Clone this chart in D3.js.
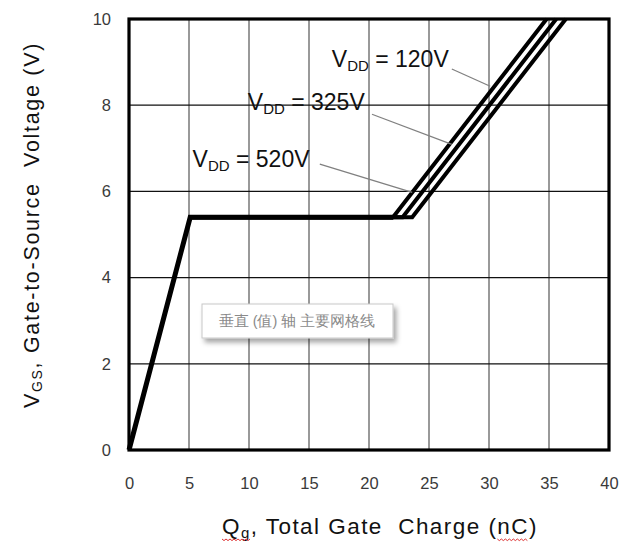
<!DOCTYPE html>
<html>
<head>
<meta charset="utf-8">
<script src="https://cdn.jsdelivr.net/npm/d3@7"></script>
<style>
  html, body { margin: 0; padding: 0; background: #fff; }
  svg { display: block; }
  text { font-family: "Liberation Sans", Arial, sans-serif; }
</style>
</head>
<body>
<svg id="chart" width="637" height="548"></svg>
<script>
// Gate charge curves: V_GS vs Q_g for three drain voltages
const xTicks = [0, 5, 10, 15, 20, 25, 30, 35, 40];
const yTicks = [0, 2, 4, 6, 8, 10];

const vddNames = ["120V", "325V", "520V"];
// shared turn-on ramp up to the Miller plateau
const rampCharge = [0, 5.1];
const rampVoltage = [0, 5.4];
const plateauVoltage = 5.4;
// end of the plateau and charge at V_GS = 10 V for each V_DD
const plateauEnd = [22.0, 22.8, 23.6];
const topCharge = [34.8, 35.6, 36.4];
const topVoltage = 10;

// label anchors (charge, voltage) and leader lines
const labelAt = [[16.9, 8.88], [9.9, 7.9], [5.3, 6.56]];
const leaderFrom = [[26.9, 8.84], [20.25, 7.79], [15.9, 6.63]];
const leaderTo = [[30.1, 8.44], [26.9, 7.09], [23.6, 5.98]];

const svg = d3.select("#chart");
const x = d3.scaleLinear().domain([0, 40]).range([129, 609]);
const y = d3.scaleLinear().domain([0, 10]).range([450, 19]);

// grid
svg.append("g").selectAll("line").data(xTicks.slice(1, -1)).join("line")
  .attr("x1", d => x(d)).attr("x2", d => x(d))
  .attr("y1", y(10)).attr("y2", y(0))
  .attr("stroke", "#555").attr("stroke-width", 1.2);
svg.append("g").selectAll("line").data(yTicks.slice(1, -1)).join("line")
  .attr("x1", x(0)).attr("x2", x(40))
  .attr("y1", d => y(d)).attr("y2", d => y(d))
  .attr("stroke", "#111").attr("stroke-width", 1.2);

// floating gridline tooltip box
const defs = svg.append("defs");
const f = defs.append("filter").attr("id", "shadow").attr("x", "-10%").attr("y", "-30%").attr("width", "130%").attr("height", "180%");
f.append("feDropShadow").attr("dx", 3).attr("dy", 4).attr("stdDeviation", 2.5).attr("flood-color", "#000").attr("flood-opacity", 0.35);
svg.append("rect")
  .attr("x", 202).attr("y", 304).attr("width", 191).attr("height", 34)
  .attr("fill", "#fff").attr("stroke", "#c8c8c8").attr("stroke-width", 1)
  .attr("filter", "url(#shadow)");
svg.append("text")
  .attr("x", 297).attr("y", 326).attr("text-anchor", "middle")
  .attr("font-family", "'Noto Sans CJK SC', sans-serif").attr("font-size", 14.5)
  .attr("fill", "#8a8a8a")
  .text("垂直 (值) 轴 主要网格线");

// frame
svg.append("rect")
  .attr("x", x(0)).attr("y", y(10))
  .attr("width", x(40) - x(0)).attr("height", y(0) - y(10))
  .attr("fill", "none").attr("stroke", "#000").attr("stroke-width", 3.2);

// tick labels via axes
const xAxis = svg.append("g").attr("transform", `translate(0,${y(0)})`)
  .call(d3.axisBottom(x).tickValues(xTicks).tickSize(0).tickPadding(27));
const yAxis = svg.append("g").attr("transform", `translate(${x(0)},0)`)
  .call(d3.axisLeft(y).tickValues(yTicks).tickSize(0).tickPadding(18));
[xAxis, yAxis].forEach(g => {
  g.select(".domain").remove();
  g.selectAll("text").attr("font-family", "'Liberation Sans', Arial, sans-serif")
    .attr("font-size", 16.5).attr("fill", "#3a3a3a");
});

// curves: shared ramp and plateau, then one rising branch per V_DD
const line = d3.line().x(d => x(d[0])).y(d => y(d[1]));
const curves = vddNames.map((n, i) => [
  [rampCharge[0], rampVoltage[0]],
  [rampCharge[1], rampVoltage[1]],
  [plateauEnd[i], plateauVoltage],
  [topCharge[i], topVoltage]
]);
const curveG = svg.append("g");
curveG.append("path").datum(curves[0].slice(0, 3)).attr("d", line)
  .attr("fill", "none").attr("stroke", "#000").attr("stroke-width", 5);
curveG.selectAll("path.branch").data(curves).join("path").attr("class", "branch")
  .attr("d", d => line(d.slice(1)))
  .attr("fill", "none").attr("stroke", "#000").attr("stroke-width", 4)
  .attr("stroke-linejoin", "miter");

// leaders
svg.append("g").selectAll("line").data(vddNames).join("line")
  .attr("x1", (d, i) => x(leaderFrom[i][0])).attr("y1", (d, i) => y(leaderFrom[i][1]))
  .attr("x2", (d, i) => x(leaderTo[i][0])).attr("y2", (d, i) => y(leaderTo[i][1]))
  .attr("stroke", "#808080").attr("stroke-width", 1.3);

// V_DD labels
const lab = svg.append("g").selectAll("text").data(vddNames).join("text")
  .attr("x", (d, i) => x(labelAt[i][0])).attr("y", (d, i) => y(labelAt[i][1]))
  .attr("font-size", 23).attr("fill", "#111");
lab.append("tspan").text("V");
lab.append("tspan").attr("font-size", 15).attr("dy", 4).text("DD");
lab.append("tspan").attr("dy", -4).text(d => " = " + d);

// x title
const xt = svg.append("text").attr("x", 222).attr("y", 534)
  .attr("font-size", 22.5).attr("fill", "#111").attr("letter-spacing", 1.45);
xt.append("tspan").text("Q");
xt.append("tspan").attr("font-size", 15).attr("dy", 4).text("g");
xt.append("tspan").attr("dy", -4).attr("xml:space", "preserve").text(", Total Gate  Charge (nC)");

// spell-check squiggles under "Qg" and "nC"
const squiggle = (x0, x1, yy) => {
  let d = `M${x0},${yy}`;
  for (let xx = x0 + 2, k = 0; xx <= x1; xx += 2, k++) d += `L${xx},${yy + (k % 2 ? 0 : 1.6)}`;
  return d;
};
const xtNode = xt.node();
const full = xtNode.textContent;
const iN = full.indexOf("nC");
const nStart = xtNode.getStartPositionOfChar(iN).x;
const cEnd = xtNode.getEndPositionOfChar(iN + 1).x;
const gEnd = xtNode.getEndPositionOfChar(1).x;
svg.append("path").attr("d", squiggle(222, gEnd, 539)).attr("fill", "none").attr("stroke", "#d33").attr("stroke-width", 1);
svg.append("path").attr("d", squiggle(nStart, cEnd, 539)).attr("fill", "none").attr("stroke", "#d33").attr("stroke-width", 1);

// y title
const yt = svg.append("text")
  .attr("transform", `translate(39,${225}) rotate(-90)`)
  .attr("text-anchor", "middle").attr("font-size", 21.5).attr("fill", "#111")
  .attr("letter-spacing", 1.7);
yt.append("tspan").text("V");
yt.append("tspan").attr("font-size", 14).attr("dy", 3).text("GS");
yt.append("tspan").attr("dy", -3).attr("xml:space", "preserve").text(", Gate-to-Source  Voltage (V)");
</script>
</body>
</html>
